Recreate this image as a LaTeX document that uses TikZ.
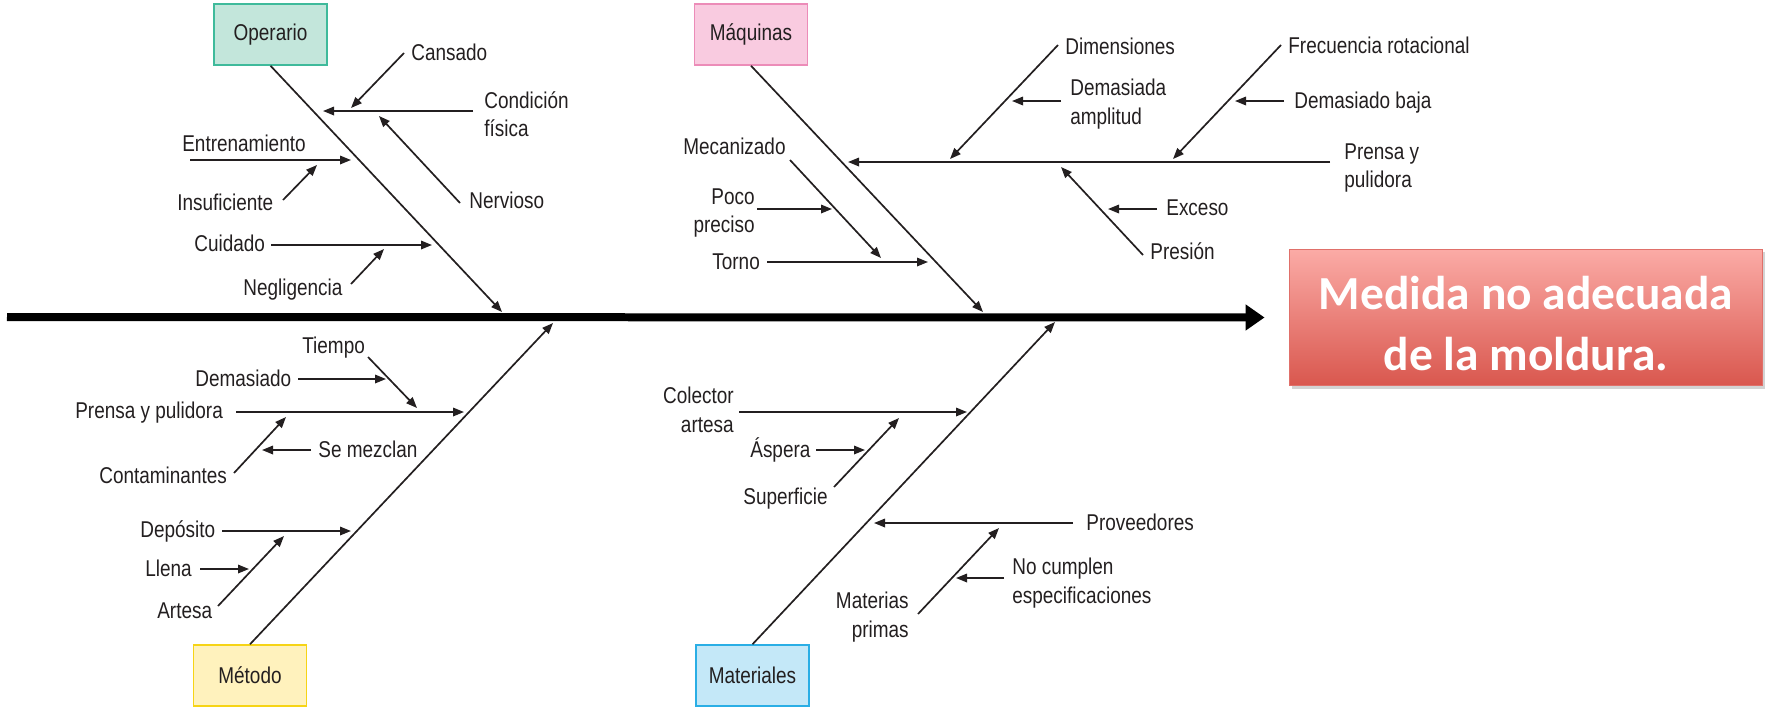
\documentclass[tikz,border=0pt]{standalone}
\usepackage{fontspec}
\setmainfont{Liberation Sans}[FakeStretch=0.83]
\newfontfamily\titlefont{Carlito}
\usepackage{xcolor}
\usepackage{tikz}
\usetikzlibrary{arrows.meta,shadows}
\definecolor{tinta}{HTML}{231F20}
\definecolor{opfondo}{HTML}{C3E6DB}
\definecolor{opborde}{HTML}{3FBA9B}
\definecolor{maqfondo}{HTML}{F9CBE0}
\definecolor{maqborde}{HTML}{EC8CB8}
\definecolor{metfondo}{HTML}{FFF2BD}
\definecolor{metborde}{HTML}{F6D416}
\definecolor{matfondo}{HTML}{C4E8F8}
\definecolor{matborde}{HTML}{2AAEE5}
\definecolor{efarriba}{HTML}{FBABA6}
\definecolor{efabajo}{HTML}{D9574E}
\definecolor{efborde}{HTML}{E0706A}

\begin{document}
\begin{tikzpicture}[x=0.02cm,y=-0.02cm,
      causa/.style={draw,line width=0.03cm,minimum width=2.26cm,minimum height=1.22cm,inner sep=0pt,font=\fontsize{13}{16}\selectfont,text=tinta},
      lbl/.style={inner sep=0pt,text height=9.3pt,text depth=0pt,font=\fontsize{13}{16}\selectfont,text=tinta},
      lblm/.style={inner sep=0pt,font=\fontsize{13}{16}\selectfont,text=tinta},
      flecha/.style={draw=tinta,line width=0.034cm,-{Triangle[length=0.22cm,width=0.17cm]}},
      espina/.style={draw=black,line width=0.16cm,-{Triangle[length=0.38cm,width=0.5cm]}},
      efecto/.style={draw=efborde,line width=0.02cm,top color=efarriba,bottom color=efabajo,minimum width=9.48cm,minimum height=2.74cm,drop shadow={shadow xshift=0.05cm,shadow yshift=-0.06cm,opacity=0.35}},
      titulo/.style={align=center,text=white,inner sep=0pt,font=\titlefont\bfseries\fontsize{27}{34.7}\selectfont}
]
\useasboundingbox (0,0) rectangle (1767,714);

\node[efecto] (efecto) at (1526,317.5) {};
\node[titulo] (efecto-texto) at ([yshift=-0.12cm]efecto.center) {Medida no adecuada\\de la moldura.};
\coordinate (inicio) at (7,317);
\draw[espina,shorten >=0.48cm] (inicio) -- (efecto.west);

\node[causa,fill=opfondo,draw=opborde] (operario) at (270.5,34.5) {Operario};
\node[causa,fill=maqfondo,draw=maqborde] (maquinas) at (751,34.5) {Máquinas};
\node[causa,fill=metfondo,draw=metborde] (metodo) at (250,675.5) {Método};
\node[causa,fill=matfondo,draw=matborde] (materiales) at (752.5,675.5) {Materiales};

\coordinate (op-f) at (502,312);
\coordinate (maq-f) at (983,312);
\coordinate (met-f) at (553,323);
\coordinate (mat-f) at (1055,322);
\draw[flecha] (operario.south) -- (op-f);
\draw[flecha] (maquinas.south) -- (maq-f);
\draw[flecha] (metodo.north) -- (met-f);
\draw[flecha] (materiales.north) -- (mat-f);

\node[lbl,anchor=west] (cansado) at (411,52) {Cansado};
\node[lblm,anchor=north west,align=left] (condicion) at (484,91) {Condición\\física};
\node[lbl,anchor=west] (nervioso) at (469,200) {Nervioso};
\node[lbl,anchor=west] (entrenamiento) at (182,143) {Entrenamiento};
\node[lbl,anchor=west] (insuficiente) at (177,202) {Insuficiente};
\node[lbl,anchor=west] (cuidado) at (194,243) {Cuidado};
\node[lbl,anchor=west] (negligencia) at (243,287) {Negligencia};
\coordinate (cansado-i) at (404,53); \coordinate (cansado-f) at (351,108);
\coordinate (condicion-i) at (473,111); \coordinate (condicion-f) at (323,111);
\coordinate (nervioso-i) at (460,203); \coordinate (nervioso-f) at (379,116);
\coordinate (entrenamiento-i) at (190,160); \coordinate (entrenamiento-f) at (351,160);
\coordinate (insuficiente-i) at (283,200); \coordinate (insuficiente-f) at (317,165);
\coordinate (cuidado-i) at (271,245); \coordinate (cuidado-f) at (432,245);
\coordinate (negligencia-i) at (351,284); \coordinate (negligencia-f) at (384,249);
\draw[flecha] (cansado-i) -- (cansado-f);
\draw[flecha] (condicion-i) -- (condicion-f);
\draw[flecha] (nervioso-i) -- (nervioso-f);
\draw[flecha] (entrenamiento-i) -- (entrenamiento-f);
\draw[flecha] (insuficiente-i) -- (insuficiente-f);
\draw[flecha] (cuidado-i) -- (cuidado-f);
\draw[flecha] (negligencia-i) -- (negligencia-f);

\node[lbl,anchor=west] (dimensiones) at (1065,46) {Dimensiones};
\node[lblm,anchor=north west,align=left] (amplitud) at (1070,79) {Demasiada\\amplitud};
\node[lbl,anchor=west] (frecuencia) at (1288,45) {Frecuencia rotacional};
\node[lbl,anchor=west] (baja) at (1294,100) {Demasiado baja};
\node[lblm,anchor=north west,align=left] (prensa) at (1344,143) {Prensa y\\pulidora};
\node[lbl,anchor=west] (exceso) at (1166,207) {Exceso};
\node[lbl,anchor=west] (presion) at (1150,251) {Presión};
\node[lbl,anchor=west] (mecanizado) at (683,146) {Mecanizado};
\node[lblm,anchor=north east,align=right] (poco) at (755,188) {Poco\\preciso};
\node[lbl,anchor=west] (torno) at (712,261) {Torno};
\coordinate (dimensiones-i) at (1058,45); \coordinate (dimensiones-f) at (950,159);
\coordinate (amplitud-i) at (1061,101); \coordinate (amplitud-f) at (1012,101);
\coordinate (frecuencia-i) at (1281,45); \coordinate (frecuencia-f) at (1173,159);
\coordinate (baja-i) at (1284,101); \coordinate (baja-f) at (1235,101);
\coordinate (prensa-i) at (1330,162); \coordinate (prensa-f) at (848,162);
\coordinate (exceso-i) at (1157,209); \coordinate (exceso-f) at (1108,209);
\coordinate (presion-i) at (1143,255); \coordinate (presion-f) at (1061,167);
\coordinate (mecanizado-i) at (790,160); \coordinate (mecanizado-f) at (881,258);
\coordinate (poco-i) at (757,209); \coordinate (poco-f) at (832,209);
\coordinate (torno-i) at (767,262); \coordinate (torno-f) at (928,262);
\draw[flecha] (dimensiones-i) -- (dimensiones-f);
\draw[flecha] (amplitud-i) -- (amplitud-f);
\draw[flecha] (frecuencia-i) -- (frecuencia-f);
\draw[flecha] (baja-i) -- (baja-f);
\draw[flecha] (prensa-i) -- (prensa-f);
\draw[flecha] (exceso-i) -- (exceso-f);
\draw[flecha] (presion-i) -- (presion-f);
\draw[flecha] (mecanizado-i) -- (mecanizado-f);
\draw[flecha] (poco-i) -- (poco-f);
\draw[flecha] (torno-i) -- (torno-f);

\node[lbl,anchor=west] (tiempo) at (302,345) {Tiempo};
\node[lbl,anchor=west] (demasiado) at (195,378) {Demasiado};
\node[lbl,anchor=west] (prensapul) at (75,410) {Prensa y pulidora};
\node[lbl,anchor=west] (mezclan) at (318,449) {Se mezclan};
\node[lbl,anchor=west] (contaminantes) at (99,475) {Contaminantes};
\node[lbl,anchor=west] (deposito) at (140,529) {Depósito};
\node[lbl,anchor=west] (llena) at (145,568) {Llena};
\node[lbl,anchor=west] (artesa) at (157,610) {Artesa};
\coordinate (tiempo-i) at (368,357); \coordinate (tiempo-f) at (417,408);
\coordinate (demasiado-i) at (298,379); \coordinate (demasiado-f) at (386,379);
\coordinate (prensapul-i) at (236,412); \coordinate (prensapul-f) at (464,412);
\coordinate (mezclan-i) at (311,450); \coordinate (mezclan-f) at (262,450);
\coordinate (contaminantes-i) at (234,473); \coordinate (contaminantes-f) at (286,417);
\coordinate (deposito-i) at (222,531); \coordinate (deposito-f) at (351,531);
\coordinate (llena-i) at (200,569); \coordinate (llena-f) at (249,569);
\coordinate (artesa-i) at (218,606); \coordinate (artesa-f) at (284,536);
\draw[flecha] (tiempo-i) -- (tiempo-f);
\draw[flecha] (demasiado-i) -- (demasiado-f);
\draw[flecha] (prensapul-i) -- (prensapul-f);
\draw[flecha] (mezclan-i) -- (mezclan-f);
\draw[flecha] (contaminantes-i) -- (contaminantes-f);
\draw[flecha] (deposito-i) -- (deposito-f);
\draw[flecha] (llena-i) -- (llena-f);
\draw[flecha] (artesa-i) -- (artesa-f);

\node[lblm,anchor=north east,align=right] (colector) at (734,387) {Colector\\artesa};
\node[lbl,anchor=west] (aspera) at (750,449) {Áspera};
\node[lbl,anchor=west] (superficie) at (743,496) {Superficie};
\node[lbl,anchor=west] (proveedores) at (1086,522) {Proveedores};
\node[lblm,anchor=north west,align=left] (cumplen) at (1012,558) {No cumplen\\especificaciones};
\node[lblm,anchor=north east,align=right] (materias) at (909,592) {Materias\\primas};
\coordinate (colector-i) at (739,412); \coordinate (colector-f) at (967,412);
\coordinate (aspera-i) at (816,450); \coordinate (aspera-f) at (865,450);
\coordinate (superficie-i) at (834,487); \coordinate (superficie-f) at (899,418);
\coordinate (proveedores-i) at (1073,523); \coordinate (proveedores-f) at (874,523);
\coordinate (cumplen-i) at (1004,578); \coordinate (cumplen-f) at (956,578);
\coordinate (materias-i) at (918,614); \coordinate (materias-f) at (999,528);
\draw[flecha] (colector-i) -- (colector-f);
\draw[flecha] (aspera-i) -- (aspera-f);
\draw[flecha] (superficie-i) -- (superficie-f);
\draw[flecha] (proveedores-i) -- (proveedores-f);
\draw[flecha] (cumplen-i) -- (cumplen-f);
\draw[flecha] (materias-i) -- (materias-f);
\end{tikzpicture}
\end{document}
